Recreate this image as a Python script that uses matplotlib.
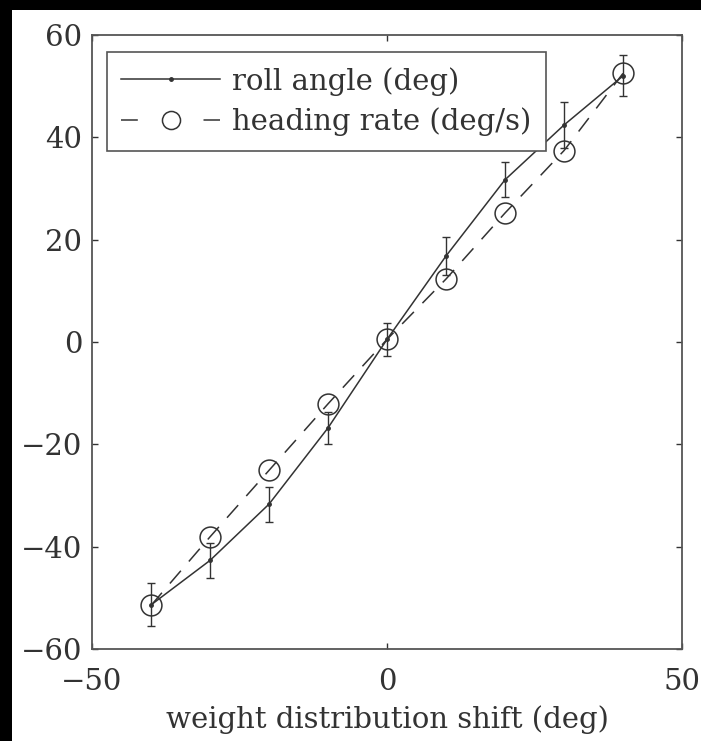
import matplotlib
matplotlib.use('Agg')
import matplotlib.pyplot as plt
from matplotlib.patches import Rectangle
from matplotlib.lines import Line2D

# weight shift positions (deg)
shift = [-40, -30, -20, -10, 0, 10, 20, 30, 40]
# roll angle (deg) with error bars
roll = [-51.4, -42.7, -31.7, -16.8, 0.5, 16.8, 31.7, 42.4, 52.0]
roll_err = [4.2, 3.4, 3.4, 3.2, 3.3, 3.8, 3.4, 4.5, 4.0]
# heading rate (deg/s)
heading = [-51.5, -38.1, -25.1, -12.1, 0.5, 12.3, 25.2, 37.4, 52.5]

plt.rcParams['font.family'] = ['DejaVu Serif']
ink = '#333333'
fs = 21

fig = plt.figure(figsize=(7.01, 7.41), dpi=100)
fig.patch.set_facecolor('black')
# white page area (black strip left and top as in the scan)
fig.patches.append(Rectangle((12 / 701, 0), 1, 1 - 10 / 741, transform=fig.transFigure,
                             facecolor='white', edgecolor='none', zorder=-10))

ax = fig.add_axes([0.1312, 0.1242, 0.8417, 0.8286])
ax.set_facecolor('white')

ax.errorbar(shift, roll, yerr=roll_err, color=ink, lw=1.1, marker='.', ms=5,
            capsize=3, elinewidth=1.0, capthick=1.0)
ax.plot(shift, heading, color=ink, lw=1.1, dashes=(11, 8), marker='o', ms=15,
        mfc='none', mew=1.1)

ax.set_xlim(-50, 50)
ax.set_ylim(-60, 60)
ax.set_xticks([-50, 0, 50])
ax.set_yticks([-60, -40, -20, 0, 20, 40, 60])
ax.set_xticklabels(['\u221250', '0', '50'])
ax.set_yticklabels(['\u221260', '\u221240', '\u221220', '0', '20', '40', '60'])
ax.tick_params(direction='in', length=4, width=1, colors=ink, labelsize=fs,
               top=True, right=True)
ax.tick_params(axis='x', pad=14)
ax.tick_params(axis='y', pad=7)
for s in ax.spines.values():
    s.set_color('#555555')
    s.set_linewidth(1.3)

ax.set_xlabel('weight distribution shift (deg)', fontsize=fs, color=ink, labelpad=6)

# legend handles: no error bars, dashed entry shows "- O -"
h_roll = Line2D([], [], color=ink, lw=1.1, marker='.', ms=5)
h_head = Line2D([], [], color=ink, lw=1.1, dashes=(11, 43), marker='o', ms=13,
                mfc='none', mew=1.1)
leg = ax.legend([h_roll, h_head], ['roll angle (deg)', 'heading rate (deg/s)'],
                loc='upper left', bbox_to_anchor=(0.025, 0.972), borderaxespad=0,
                fontsize=fs, fancybox=False, framealpha=1, edgecolor='#555555',
                handlelength=3.4, handletextpad=0.4,
                borderpad=0.5, labelspacing=0.4)
leg.get_frame().set_linewidth(1.2)
for t in leg.get_texts():
    t.set_color(ink)

fig.savefig('out.png', dpi=100, facecolor=fig.get_facecolor())
